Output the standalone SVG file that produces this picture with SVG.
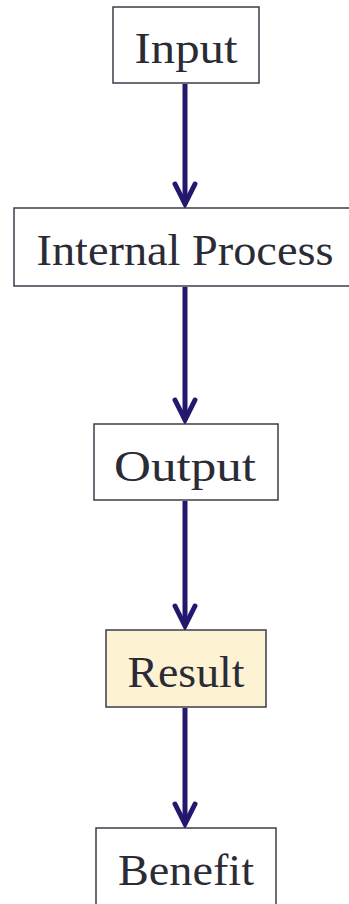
<svg xmlns="http://www.w3.org/2000/svg" width="349" height="904" viewBox="0 0 349 904">
<style>
.box{fill:#ffffff;stroke:#3c3c4a;stroke-width:1.5}
.hl{fill:#fdf2d2}
.lbl{font-family:"Liberation Serif","DejaVu Serif",serif;font-size:45px;fill:#2b2b36;text-anchor:middle}
.edge{stroke:#23186e;stroke-width:5;fill:none}
.head{stroke:#23186e;stroke-width:5;fill:none;stroke-linejoin:miter;stroke-linecap:round}
</style>
<rect width="349" height="904" fill="#ffffff"/>
<g id="connectors">
<line class="edge" x1="185" y1="84" x2="185" y2="204"/>
<polyline class="head" points="175,184 185,204 195,184"/>
<line class="edge" x1="185" y1="287" x2="185" y2="420"/>
<polyline class="head" points="175,400 185,420 195,400"/>
<line class="edge" x1="185" y1="501" x2="185" y2="626"/>
<polyline class="head" points="175,606 185,626 195,606"/>
<line class="edge" x1="185" y1="708" x2="185" y2="824"/>
<polyline class="head" points="175,804 185,824 195,804"/>
</g>
<g id="input">
<rect class="box" x="113" y="7" width="146" height="76"/>
<text class="lbl" x="186" y="63" textLength="103" lengthAdjust="spacingAndGlyphs">Input</text>
</g>
<g id="internal-process">
<rect class="box" x="14" y="208" width="340" height="78"/>
<text class="lbl" x="185" y="265" textLength="297" lengthAdjust="spacingAndGlyphs">Internal Process</text>
</g>
<g id="output">
<rect class="box" x="94" y="424" width="184" height="76"/>
<text class="lbl" x="185" y="481" textLength="142" lengthAdjust="spacingAndGlyphs">Output</text>
</g>
<g id="result">
<rect class="box hl" x="106" y="630" width="160" height="77"/>
<text class="lbl" x="186" y="687" textLength="117" lengthAdjust="spacingAndGlyphs">Result</text>
</g>
<g id="benefit">
<rect class="box" x="96" y="828" width="180" height="80"/>
<text class="lbl" x="186" y="885" textLength="136" lengthAdjust="spacingAndGlyphs">Benefit</text>
</g>
</svg>
